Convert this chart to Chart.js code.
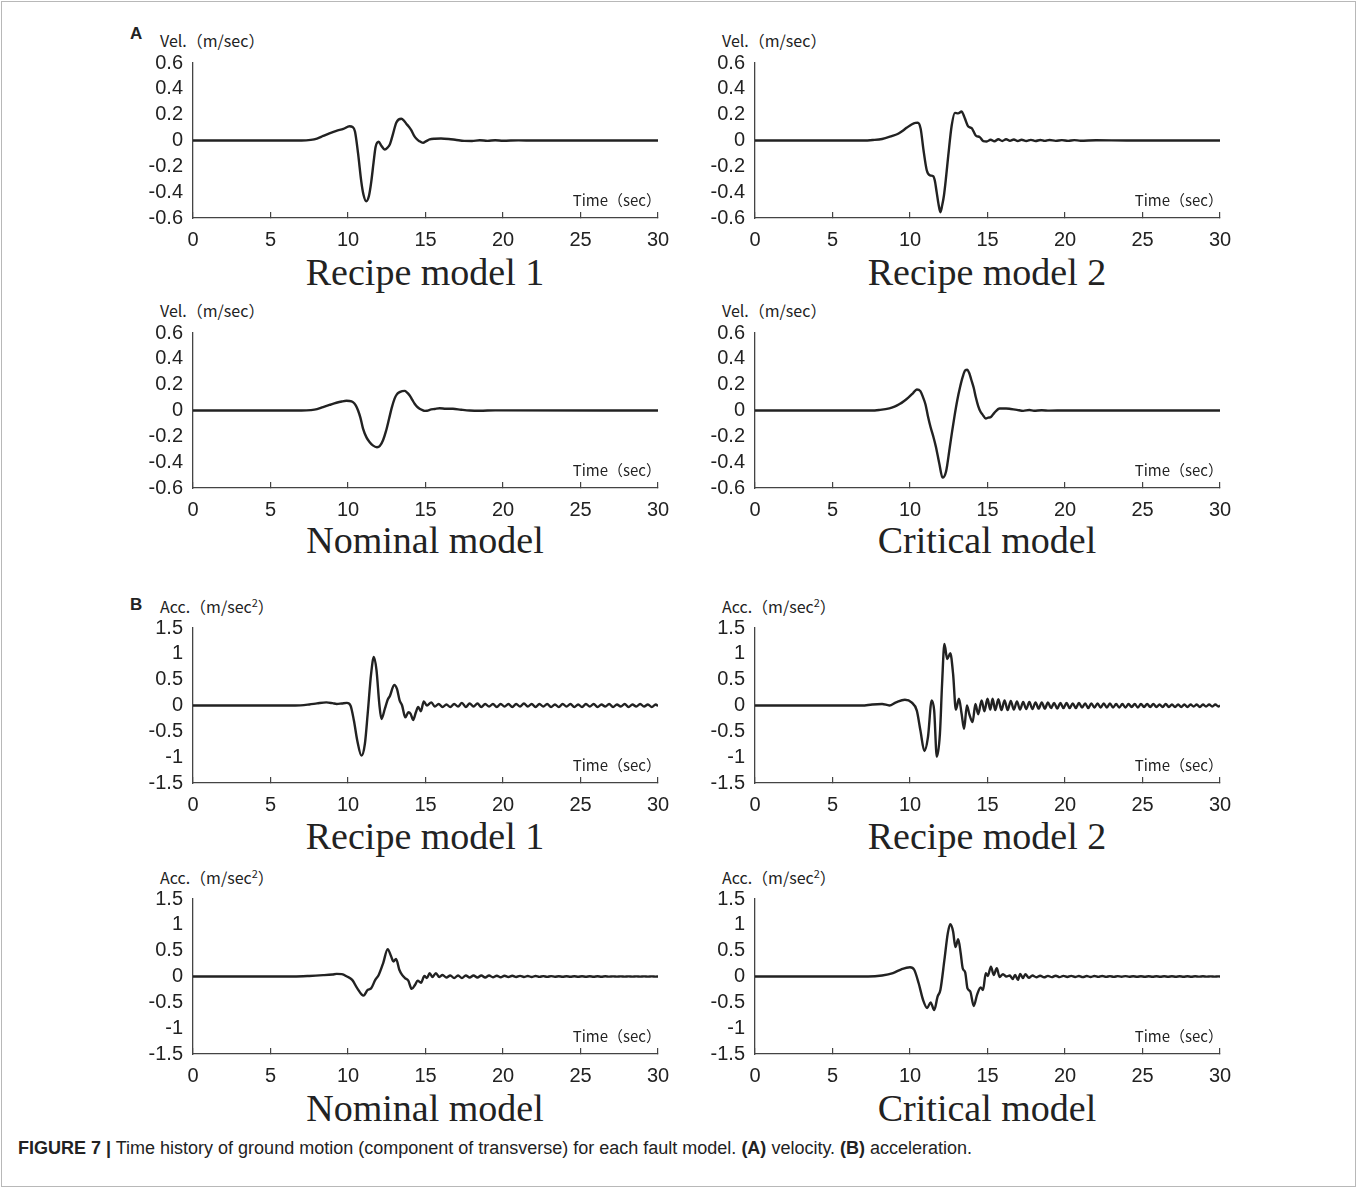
<!DOCTYPE html>
<html>
<head>
<meta charset="utf-8">
<script src="https://cdn.jsdelivr.net/npm/chart.js@4.4.0/dist/chart.umd.min.js"></script>
<style>
  html, body { margin: 0; padding: 0; background: #fff; }
  #fig { position: relative; width: 1359px; height: 1196px; overflow: hidden; }
  #frame { position: absolute; left: 1px; top: 1px; width: 1353px; height: 1184px; border: 1px solid #b8b8b8; }
  .lbl { position: absolute; color: #222; white-space: nowrap; transform: translateY(-50%); }
  .unit { font-family: "Noto Sans CJK JP", "Noto Sans", sans-serif; font-size: 16px; }
  .panel { font-family: "Liberation Sans", Arial, sans-serif; font-weight: bold; font-size: 17px; }
  .title { position: absolute; color: #222; white-space: nowrap; transform: translate(-50%, -50%);
           font-family: "Liberation Serif", "Times New Roman", serif; font-size: 38px; }
  #caption { position: absolute; left: 18px; top: 1138px; white-space: nowrap; transform-origin: 0 50%;
             font-family: "Liberation Sans Narrow", "Arial Narrow", "Liberation Sans", Arial, sans-serif;
             font-size: 18px; line-height: 20px; color: #222; }
  canvas { position: absolute; }
</style>
</head>
<body>
<div id="fig">
  <div id="frame"></div>

  <div class="lbl panel" style="left:130px; top:34px;">A</div>
  <div class="lbl panel" style="left:130px; top:605px;">B</div>

  <div class="lbl unit" style="left:160px; top:40px;">Vel.（m/sec）</div>
  <div class="lbl unit" style="left:722px; top:40px;">Vel.（m/sec）</div>
  <div class="lbl unit" style="left:160px; top:310px;">Vel.（m/sec）</div>
  <div class="lbl unit" style="left:722px; top:310px;">Vel.（m/sec）</div>
  <div class="lbl unit" style="left:160px; top:606px;">Acc.（m/sec<sup style="font-size:11px">2</sup>）</div>
  <div class="lbl unit" style="left:722px; top:606px;">Acc.（m/sec<sup style="font-size:11px">2</sup>）</div>
  <div class="lbl unit" style="left:160px; top:877px;">Acc.（m/sec<sup style="font-size:11px">2</sup>）</div>
  <div class="lbl unit" style="left:722px; top:877px;">Acc.（m/sec<sup style="font-size:11px">2</sup>）</div>

  <div class="title" style="left:425px; top:272px;">Recipe model 1</div>
  <div class="title" style="left:987px; top:272px;">Recipe model 2</div>
  <div class="title" style="left:425px; top:540px;">Nominal model</div>
  <div class="title" style="left:987px; top:540px;">Critical model</div>
  <div class="title" style="left:425px; top:836px;">Recipe model 1</div>
  <div class="title" style="left:987px; top:836px;">Recipe model 2</div>
  <div class="title" style="left:425px; top:1108px;">Nominal model</div>
  <div class="title" style="left:987px; top:1108px;">Critical model</div>

  <div id="caption"><b>FIGURE 7 |</b> Time history of ground motion (component of transverse) for each fault model. <b>(A)</b> velocity. <b>(B)</b> acceleration.</div>
</div>

<script>
// tick labels
const xTicks = [0, 5, 10, 15, 20, 25, 30];
const velTicks = [-0.6, -0.4, -0.2, 0, 0.2, 0.4, 0.6];
const accTicks = [-1.5, -1, -0.5, 0, 0.5, 1, 1.5];

// (A) velocity, m/sec
const recipe1VelT = [0, 7.0, 7.6, 8.0, 8.4, 8.8, 9.25, 9.7, 10.1, 10.3,
  10.45, 10.65, 10.86, 11.0, 11.18, 11.35, 11.5, 11.65, 11.78, 11.98,
  12.15, 12.37, 12.55, 12.7, 12.9, 13.12, 13.44, 13.6, 13.76, 13.9,
  14.08, 14.25, 14.4, 14.6, 14.84, 15.05, 15.27, 15.6, 16.0, 16.5,
  17.0, 17.5, 18.0, 18.5, 19.0, 19.5, 20.0, 21.0, 22.0, 30.0];
const recipe1VelV = [0, 0, 0.005, 0.015, 0.035, 0.055, 0.075, 0.09, 0.11, 0.105,
  0.07, -0.1, -0.32, -0.42, -0.47, -0.43, -0.32, -0.17, -0.05, -0.01,
  -0.04, -0.07, -0.055, -0.03, 0.05, 0.14, 0.168, 0.155, 0.13, 0.11,
  0.08, 0.04, 0.015, -0.005, -0.018, -0.005, 0.008, 0.014, 0.016, 0.012,
  0.004, -0.003, -0.004, 0.002, -0.003, 0.002, -0.002, 0.001, 0, 0];

const recipe2VelT = [0, 7.0, 7.6, 8.2, 8.82, 9.2, 9.46, 9.8, 10.1, 10.35,
  10.5, 10.69, 10.86, 11.08, 11.29, 11.5, 11.6, 11.72, 11.85, 11.96,
  12.08, 12.19, 12.33, 12.47, 12.69, 12.9, 13.1, 13.33, 13.45, 13.55,
  13.76, 13.98, 14.1, 14.24, 14.5, 14.73, 14.95, 15.2, 15.45, 15.7,
  15.95, 16.2, 16.45, 16.7, 16.95, 17.2, 17.5, 17.8, 18.1, 18.4,
  18.7, 19.0, 19.4, 19.8, 20.2, 20.6, 21.0, 22.0, 24.0, 30.0];
const recipe2VelV = [0, 0, 0.004, 0.012, 0.034, 0.05, 0.07, 0.1, 0.124, 0.136,
  0.137, 0.09, -0.065, -0.23, -0.27, -0.276, -0.31, -0.4, -0.5, -0.555,
  -0.5, -0.426, -0.28, -0.116, 0.116, 0.214, 0.21, 0.224, 0.2, 0.168,
  0.108, 0.095, 0.07, 0.039, 0.026, -0.005, -0.008, 0.006, -0.006, 0.01,
  -0.004, 0.01, -0.002, 0.008, -0.004, 0.006, -0.004, 0.005, -0.004, 0.004,
  -0.003, 0.004, -0.003, 0.003, -0.003, 0.003, -0.002, 0.002, 0, 0];

const nominalVelT = [0, 7.0, 7.6, 8.0, 8.39, 8.8, 9.25, 9.6, 9.9, 10.1,
  10.32, 10.5, 10.65, 10.8, 10.97, 11.2, 11.4, 11.6, 11.87, 12.05,
  12.26, 12.45, 12.65, 12.82, 13.0, 13.15, 13.33, 13.5, 13.66, 13.8,
  13.98, 14.15, 14.3, 14.45, 14.62, 14.8, 14.95, 15.1, 15.27, 15.6,
  15.91, 16.3, 16.77, 17.3, 17.85, 18.5, 19.5, 30.0];
const nominalVelV = [0, 0, 0.003, 0.01, 0.027, 0.043, 0.06, 0.07, 0.075, 0.074,
  0.065, 0.04, 0, -0.055, -0.14, -0.21, -0.245, -0.27, -0.284, -0.275,
  -0.23, -0.16, -0.064, 0.02, 0.09, 0.125, 0.142, 0.15, 0.152, 0.14,
  0.116, 0.082, 0.052, 0.03, 0.013, 0.003, -0.003, -0.002, 0.005, 0.012,
  0.018, 0.014, 0.013, 0.006, 0, -0.002, 0.001, 0];

const criticalVelT = [0, 7.5, 8.0, 8.67, 9.0, 9.33, 9.6, 9.89, 10.2, 10.44,
  10.67, 10.85, 11.0, 11.15, 11.33, 11.5, 11.67, 11.89, 12.1, 12.33,
  12.56, 12.72, 12.89, 13.05, 13.22, 13.4, 13.56, 13.7, 13.82, 13.95,
  14.11, 14.25, 14.4, 14.55, 14.67, 14.89, 15.05, 15.22, 15.44, 15.78,
  16.2, 16.5, 16.9, 17.3, 17.7, 18.0, 18.5, 19.0, 20.0, 30.0];
const criticalVelV = [0, 0, 0.004, 0.016, 0.03, 0.05, 0.072, 0.1, 0.135, 0.163,
  0.15, 0.1, 0.047, -0.04, -0.13, -0.2, -0.28, -0.41, -0.52, -0.47,
  -0.29, -0.16, -0.03, 0.08, 0.176, 0.26, 0.31, 0.315, 0.29, 0.24,
  0.176, 0.1, 0.034, -0.01, -0.03, -0.062, -0.055, -0.05, -0.018, 0.016,
  0.016, 0.012, 0.005, -0.003, 0.004, -0.002, 0.002, -0.001, 0, 0];

// (B) acceleration, m/sec^2
const recipe1AccT = [0, 6.6, 7.5, 8.0, 8.6, 9.0, 9.27, 9.6, 9.93, 10.16,
  10.38, 10.6, 10.87, 11.09, 11.27, 11.49, 11.67, 11.84, 12.02, 12.16,
  12.38, 12.56, 12.71, 12.98, 13.16, 13.33, 13.49, 13.7, 13.9, 14.04,
  14.2, 14.38, 14.53, 14.7, 14.89, 15.09, 15.38,
  15.6, 15.85, 16.1, 16.35, 16.6, 16.85, 17.1, 17.35, 17.6, 17.85,
  18.1, 18.35, 18.6, 18.85, 19.1, 19.35, 19.6, 19.85, 20.1, 20.35,
  20.6, 20.85, 21.1, 21.35, 21.6, 21.85, 22.1, 22.35, 22.6, 22.85,
  23.1, 23.35, 23.6, 23.85, 24.1, 24.35, 24.6, 24.85, 25.1, 25.35,
  25.6, 25.85, 26.1, 26.35, 26.6, 26.85, 27.1, 27.35, 27.6, 27.85,
  28.1, 28.35, 28.6, 28.85, 29.1, 29.35, 29.6, 29.85, 30];
const recipe1AccV = [0, 0, 0.02, 0.04, 0.06, 0.045, 0.03, 0.04, 0.05, 0,
  -0.29, -0.68, -0.97, -0.74, -0.16, 0.61, 0.94, 0.68, 0.03, -0.26,
  -0.06, 0.11, 0.19, 0.4, 0.32, 0.1, 0, -0.23, -0.13, -0.16,
  -0.28, -0.13, -0.03, -0.11, 0.08, 0, 0.06,
  -0.02, 0.03, -0.03, 0.02, -0.03, 0.03, -0.02, 0.05, -0.03, 0.04,
  -0.02, 0.04, -0.03, 0.03, -0.02, 0.03, -0.03, 0.03, -0.02, 0.03,
  -0.03, 0.03, -0.02, 0.04, -0.02, 0.03, -0.03, 0.03, -0.02, 0.03,
  -0.03, 0.02, -0.03, 0.03, -0.02, 0.03, -0.03, 0.02, -0.03, 0.03,
  -0.02, 0.03, -0.03, 0.02, -0.02, 0.03, -0.03, 0.02, -0.02, 0.03,
  -0.03, 0.02, -0.02, 0.03, -0.02, 0.02, -0.03, 0.02, -0.01];

const recipe2AccT = [0, 6.9, 7.56, 8.2, 8.67, 9.1, 9.67, 10.1, 10.44, 10.67,
  10.93, 11.16, 11.4, 11.56, 11.73, 11.93, 12.07, 12.22, 12.4, 12.6,
  12.78, 12.96, 13.16, 13.33, 13.49, 13.67, 13.82, 14.04, 14.22, 14.4,
  14.62, 14.8, 15.0, 15.18, 15.33,
  15.5, 15.7, 15.9, 16.1, 16.3, 16.5, 16.7, 16.9, 17.1, 17.3,
  17.5, 17.7, 17.9, 18.1, 18.3, 18.5, 18.7, 18.9, 19.1, 19.3,
  19.5, 19.7, 19.9, 20.1, 20.3, 20.5, 20.7, 20.9, 21.1, 21.3,
  21.5, 21.7, 21.9, 22.1, 22.3, 22.5, 22.7, 22.9, 23.1, 23.3,
  23.5, 23.7, 23.9, 24.1, 24.3, 24.5, 24.7, 24.9, 25.1, 25.3,
  25.5, 25.7, 25.9, 26.1, 26.3, 26.5, 26.7, 26.9, 27.1, 27.3,
  27.5, 27.7, 27.9, 28.1, 28.3, 28.5, 28.7, 28.9, 29.1, 29.3,
  29.5, 29.7, 29.9, 30];
const recipe2AccV = [0, 0, 0.02, 0.03, 0, 0.06, 0.11, 0.06, -0.1, -0.48,
  -0.88, -0.61, 0.1, -0.1, -0.99, -0.55, 0.42, 1.19, 0.9, 1.01,
  0.61, -0.08, 0.13, -0.16, -0.45, 0, -0.16, -0.32, 0.03, -0.17,
  0.1, -0.11, 0.13, -0.08, 0.13,
  -0.09, 0.12, -0.09, 0.1, -0.09, 0.09, -0.08, 0.08, -0.08, 0.07,
  -0.07, 0.07, -0.07, 0.06, -0.06, 0.06, -0.06, 0.06, -0.05, 0.05,
  -0.06, 0.05, -0.05, 0.05, -0.05, 0.04, -0.05, 0.05, -0.04, 0.04,
  -0.05, 0.04, -0.04, 0.04, -0.04, 0.04, -0.04, 0.04, -0.04, 0.03,
  -0.04, 0.03, -0.04, 0.03, -0.03, 0.03, -0.04, 0.03, -0.03, 0.03,
  -0.03, 0.03, -0.03, 0.02, -0.03, 0.03, -0.03, 0.02, -0.03, 0.02,
  -0.03, 0.02, -0.03, 0.02, -0.02, 0.02, -0.03, 0.02, -0.02, 0.02,
  -0.02, 0.02, -0.02, 0];

const nominalAccT = [0, 6.5, 7.5, 8.4, 9.0, 9.27, 9.6, 9.93, 10.27, 10.6,
  11.0, 11.27, 11.49, 11.76, 11.98, 12.27, 12.56, 12.78, 12.93, 13.1,
  13.31, 13.49, 13.67, 13.89, 14.11, 14.33, 14.49, 14.71, 14.93, 15.09,
  15.27, 15.44, 15.67, 15.89,
  16.1, 16.35, 16.6, 16.85, 17.1, 17.35, 17.6, 17.85, 18.1, 18.35,
  18.6, 18.85, 19.1, 19.35, 19.6, 19.85, 20.1, 20.35, 20.6, 20.85,
  21.1, 21.35, 21.6, 21.85, 22.1, 22.35, 22.6, 22.85, 23.1, 23.35,
  23.6, 23.85, 24.1, 24.35, 24.6, 24.85, 25.1, 25.35, 25.6, 25.85,
  26.1, 26.35, 26.6, 26.85, 27.1, 27.35, 27.6, 27.85, 28.1, 28.35,
  28.6, 28.85, 29.1, 29.35, 29.6, 29.85, 30];
const nominalAccV = [0, 0, 0.01, 0.026, 0.04, 0.05, 0.045, 0, -0.065, -0.23,
  -0.37, -0.26, -0.23, -0.065, 0.03, 0.26, 0.53, 0.39, 0.29, 0.34,
  0.13, 0.03, -0.03, -0.08, -0.24, -0.16, -0.08, -0.12, 0.01, -0.03,
  0.065, -0.01, 0.065, -0.01,
  0.03, -0.02, 0.02, -0.03, 0.02, -0.03, 0.02, -0.02, 0.02, -0.02,
  0.02, -0.02, 0.02, -0.015, 0.015, -0.015, 0.015, -0.01, 0.015, -0.01,
  0.012, -0.01, 0.01, -0.01, 0.01, -0.008, 0.008, -0.008, 0.008, -0.006,
  0.006, -0.006, 0.006, -0.005, 0.005, -0.005, 0.005, -0.004, 0.004, -0.004,
  0.004, -0.004, 0.004, -0.003, 0.003, -0.003, 0.003, -0.003, 0.003, -0.003,
  0.003, -0.003, 0.003, -0.002, 0.002, -0.002, 0];

const criticalAccT = [0, 7.3, 8.2, 8.9, 9.44, 10.0, 10.27, 10.56, 10.84, 11.11,
  11.33, 11.56, 11.78, 11.96, 12.22, 12.44, 12.6, 12.78, 12.93, 13.11,
  13.27, 13.4, 13.56, 13.71, 13.89, 14.11, 14.33, 14.56, 14.71, 14.89,
  15.02, 15.22, 15.4, 15.6, 15.78, 16.0, 16.22, 16.44, 16.62, 16.78,
  16.96, 17.11, 17.29, 17.44, 17.67,
  17.9, 18.15, 18.4, 18.65, 18.9, 19.15, 19.4, 19.65, 19.9, 20.15,
  20.4, 20.65, 20.9, 21.15, 21.4, 21.65, 21.9, 22.15, 22.4, 22.65,
  22.9, 23.15, 23.4, 23.65, 23.9, 24.15, 24.4, 24.65, 24.9, 25.15,
  25.4, 25.65, 25.9, 26.15, 26.4, 26.65, 26.9, 27.15, 27.4, 27.65,
  27.9, 28.15, 28.4, 28.65, 28.9, 29.15, 29.4, 29.65, 29.9, 30];
const criticalAccV = [0, 0, 0.02, 0.065, 0.14, 0.18, 0.13, -0.13, -0.45, -0.61,
  -0.5, -0.65, -0.39, -0.26, 0.32, 0.84, 1.01, 0.87, 0.57, 0.72,
  0.45, 0.16, 0.08, -0.23, -0.29, -0.57, -0.35, -0.21, -0.26, 0.065,
  0.01, 0.19, 0.03, 0.16, -0.01, 0.045, 0, 0.02, -0.05, 0.03,
  -0.065, 0.05, -0.03, 0.045, -0.025,
  0.02, -0.015, 0.015, -0.015, 0.012, -0.012, 0.015, -0.012, 0.012, -0.01,
  0.012, -0.01, 0.01, -0.012, 0.01, -0.01, 0.01, -0.008, 0.01, -0.008,
  0.008, -0.008, 0.008, -0.006, 0.008, -0.006, 0.006, -0.006, 0.006, -0.005,
  0.006, -0.005, 0.005, -0.005, 0.005, -0.004, 0.005, -0.004, 0.004, -0.004,
  0.004, -0.004, 0.004, -0.003, 0.004, -0.003, 0.003, -0.003, 0.003, 0];

const inkColor = '#222';
const axisColor = '#444';

// plot area of each panel: left/top corner in page pixels, 465 x 155
const panels = [
  { t: recipe1VelT, v: recipe1VelV, yTicks: velTicks, left: 193, top: 63 },
  { t: recipe2VelT, v: recipe2VelV, yTicks: velTicks, left: 755, top: 63 },
  { t: nominalVelT, v: nominalVelV, yTicks: velTicks, left: 193, top: 333 },
  { t: criticalVelT, v: criticalVelV, yTicks: velTicks, left: 755, top: 333 },
  { t: recipe1AccT, v: recipe1AccV, yTicks: accTicks, left: 193, top: 628 },
  { t: recipe2AccT, v: recipe2AccV, yTicks: accTicks, left: 755, top: 628 },
  { t: nominalAccT, v: nominalAccV, yTicks: accTicks, left: 193, top: 899 },
  { t: criticalAccT, v: criticalAccV, yTicks: accTicks, left: 755, top: 899 },
];

const plotW = 465, plotH = 155;
// padding must be larger than the tick-label overflow chart.js reserves
const yAxisW = 70, xAxisH = 40, padTop = 26, padRight = 34;

// "Time (sec)" sits inside the plot, bottom right
const timeLabel = {
  id: 'timeLabel',
  afterDraw(chart) {
    const { ctx, chartArea } = chart;
    ctx.save();
    ctx.font = '15px "Noto Sans CJK JP", "Noto Sans", sans-serif';
    ctx.fillStyle = inkColor;
    ctx.textAlign = 'right';
    ctx.textBaseline = 'middle';
    ctx.fillText('Time（sec）', chartArea.right + 3, chartArea.bottom - 18);
    ctx.restore();
  }
};

const fig = document.getElementById('fig');
const tickFont = { family: '"Liberation Sans", Arial, sans-serif', size: 20 };

panels.forEach(p => {
  if (p.t.length !== p.v.length) console.error('length mismatch', p.t.length, p.v.length);

  const canvas = document.createElement('canvas');
  canvas.width = yAxisW + plotW + padRight;
  canvas.height = padTop + plotH + xAxisH;
  canvas.style.left = (p.left - yAxisW) + 'px';
  canvas.style.top = (p.top - padTop) + 'px';
  fig.appendChild(canvas);

  const yMax = p.yTicks[p.yTicks.length - 1];

  new Chart(canvas.getContext('2d'), {
    type: 'line',
    data: {
      datasets: [{
        data: p.t.map((x, i) => ({ x: x, y: p.v[i] })),
        borderColor: inkColor,
        borderWidth: 2.4,
        pointRadius: 0,
        fill: false,
        cubicInterpolationMode: 'monotone'
      }]
    },
    options: {
      responsive: false,
      animation: false,
      devicePixelRatio: 1,
      layout: { padding: { top: padTop, right: padRight, left: 0, bottom: 0 } },
      plugins: { legend: { display: false }, tooltip: { enabled: false } },
      scales: {
        x: {
          type: 'linear',
          min: 0,
          max: 30,
          afterBuildTicks: s => { s.ticks = xTicks.map(value => ({ value })); },
          afterFit: s => { s.height = xAxisH; },
          ticks: { font: tickFont, color: inkColor, padding: 16, maxRotation: 0, autoSkip: false,
                   callback: v => String(v) },
          grid: { drawOnChartArea: false, tickLength: -6, color: axisColor, lineWidth: 1.2 },
          border: { color: axisColor, width: 1.3 }
        },
        y: {
          min: -yMax,
          max: yMax,
          afterBuildTicks: s => { s.ticks = p.yTicks.map(value => ({ value })); },
          afterFit: s => { s.width = yAxisW; },
          ticks: { font: tickFont, color: inkColor, padding: 10, autoSkip: false,
                   callback: v => String(v) },
          grid: { display: false, drawTicks: false },
          border: { color: axisColor, width: 1.3 }
        }
      }
    },
    plugins: [timeLabel]
  });
});

// caption spans x 18..972 in the figure
const caption = document.getElementById('caption');
caption.style.transform = 'scaleX(' + (954 / caption.scrollWidth) + ')';
</script>
</body>
</html>
